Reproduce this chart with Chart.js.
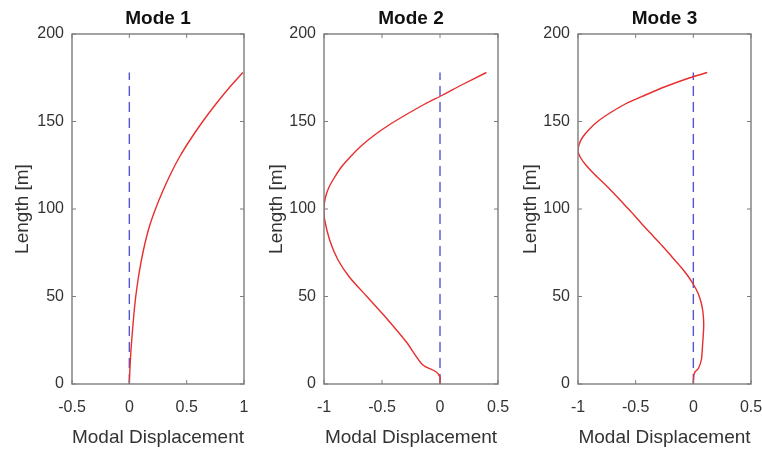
<!DOCTYPE html>
<html>
<head>
<meta charset="utf-8">
<script src="https://cdn.jsdelivr.net/npm/chart.js@4.4.0/dist/chart.umd.min.js"></script>
<style>
  html, body { margin: 0; padding: 0; background: #fff; }
  #wrap { position: relative; width: 762px; height: 451px; }
  #wrap canvas { position: absolute; left: 0; top: 0; }
</style>
</head>
<body>
<div id="wrap">
  <canvas id="modeOne" width="762" height="451"></canvas>
  <canvas id="modeTwo" width="762" height="451"></canvas>
  <canvas id="modeThree" width="762" height="451"></canvas>
</div>
<script>
// mode shapes: length along riser [m] vs modal displacement
const mode1Len  = [0, 10, 20, 30, 40, 50, 60, 70, 80, 90, 100, 110, 120, 130, 140, 150, 160, 170, 178];
const mode1Disp = [0, 0.006, 0.015, 0.027, 0.04, 0.056, 0.077, 0.103, 0.135, 0.175, 0.228, 0.29, 0.36, 0.44, 0.535, 0.64, 0.755, 0.88, 0.99];

const mode2Len  = [0, 4, 7, 11, 24, 39, 50, 61, 71, 82, 94, 100, 106, 112, 118, 124, 130, 136, 142, 148, 154, 160, 165, 171, 178];
const mode2Disp = [0, 0, -0.035, -0.15, -0.29, -0.48, -0.63, -0.78, -0.88, -0.95, -0.995, -1.0, -0.99, -0.96, -0.91, -0.85, -0.77, -0.68, -0.57, -0.44, -0.29, -0.13, 0.02, 0.19, 0.4];

const mode3Len  = [0, 5, 7, 9, 14, 22, 33, 40, 46, 52, 57, 62, 67, 73, 79, 85, 91, 97, 103, 109, 115, 120, 125, 129, 133, 137, 141, 145, 150, 155, 160, 165, 170, 175, 178];
const mode3Disp = [0, 0.005, 0.015, 0.045, 0.07, 0.08, 0.09, 0.085, 0.07, 0.04, 0, -0.05, -0.11, -0.19, -0.27, -0.355, -0.44, -0.52, -0.605, -0.69, -0.78, -0.86, -0.93, -0.975, -1.0, -0.99, -0.96, -0.91, -0.83, -0.72, -0.59, -0.42, -0.24, -0.03, 0.12];

// undeformed position (dashed)
const restLen  = [0, 178];
const restDisp = [0, 0];

const yTicks = [0, 50, 100, 150, 200];

const fontFam = "'Liberation Sans', Arial, Helvetica, sans-serif";

// matlab style box with inward ticks
const boxTicks = {
    id: 'boxTicks',
    afterDraw(chart) {
        const {ctx, chartArea: a} = chart;
        const x = chart.scales.x, y = chart.scales.y;
        ctx.save();
        ctx.strokeStyle = '#7d7d7d';
        ctx.lineWidth = 1.4;
        ctx.strokeRect(a.left, a.top, a.right - a.left, a.bottom - a.top);
        ctx.lineWidth = 1;
        ctx.beginPath();
        x.ticks.forEach(t => {
            const px = x.getPixelForValue(t.value);
            ctx.moveTo(px, a.bottom); ctx.lineTo(px, a.bottom - 4);
            ctx.moveTo(px, a.top); ctx.lineTo(px, a.top + 4);
        });
        y.ticks.forEach(t => {
            const py = y.getPixelForValue(t.value);
            ctx.moveTo(a.left, py); ctx.lineTo(a.left + 4, py);
            ctx.moveTo(a.right, py); ctx.lineTo(a.right - 4, py);
        });
        ctx.stroke();
        ctx.restore();
    }
};

function toPoints(len, disp) {
    return len.map((l, i) => ({x: disp[i], y: l}));
}

function modeChart(id, title, len, disp, xMin, xMax, padLeft, yWidth, padRight) {
    return new Chart(document.getElementById(id).getContext('2d'), {
        type: 'scatter',
        data: {
            datasets: [{
                data: toPoints(len, disp),
                showLine: true,
                borderColor: 'rgb(232, 45, 45)',
                borderWidth: 1.4,
                pointRadius: 0,
                tension: 0.25
            }, {
                data: toPoints(restLen, restDisp),
                showLine: true,
                borderColor: 'rgb(85, 85, 205)',
                borderWidth: 1.4,
                borderDash: [10, 6],
                pointRadius: 0
            }]
        },
        options: {
            responsive: false,
            animation: false,
            layout: { padding: { left: padLeft, right: padRight, top: 0, bottom: 0 } },
            plugins: {
                legend: { display: false },
                tooltip: { enabled: false }
            },
            scales: {
                xTop: {
                    axis: 'x',
                    type: 'linear',
                    position: 'top',
                    min: xMin, max: xMax,
                    grid: { display: false, drawTicks: false },
                    border: { display: false },
                    ticks: { display: false },
                    title: {
                        display: true,
                        text: title,
                        color: '#111',
                        font: { family: fontFam, size: 19, weight: 'bold' },
                        padding: { top: 7, bottom: 5 }
                    },
                    afterFit: s => { s.height = 34; s.paddingLeft = 0; s.paddingRight = 0; }
                },
                x: {
                    type: 'linear',
                    position: 'bottom',
                    min: xMin, max: xMax,
                    grid: { display: false, drawTicks: false },
                    border: { display: false },
                    ticks: {
                        stepSize: 0.5,
                        padding: 14,
                        maxRotation: 0,
                        autoSkip: false,
                        color: '#333',
                        font: { family: fontFam, size: 16 },
                        callback: v => String(v)
                    },
                    title: {
                        display: true,
                        text: 'Modal Displacement',
                        color: '#333',
                        font: { family: fontFam, size: 19 },
                        padding: { top: 0, bottom: 2 }
                    },
                    afterFit: s => { s.height = 67; s.paddingLeft = 0; s.paddingRight = 0; }
                },
                y: {
                    type: 'linear',
                    min: yTicks[0], max: yTicks[yTicks.length - 1],
                    grid: { display: false, drawTicks: false },
                    border: { display: false },
                    afterBuildTicks: s => { s.ticks = yTicks.map(v => ({value: v})); },
                    ticks: {
                        padding: 8,
                        color: '#333',
                        font: { family: fontFam, size: 16 }
                    },
                    title: {
                        display: true,
                        text: 'Length [m]',
                        color: '#333',
                        font: { family: fontFam, size: 19 },
                        padding: { top: 11, bottom: 0 }
                    },
                    afterFit: s => { s.width = yWidth; s.paddingTop = 0; s.paddingBottom = 0; }
                }
            }
        },
        plugins: [boxTicks]
    });
}

modeChart('modeOne', 'Mode 1', mode1Len, mode1Disp, -0.5, 1, 0, 72, 518);
modeChart('modeTwo', 'Mode 2', mode2Len, mode2Disp, -1, 0.5, 254, 70, 264);
modeChart('modeThree', 'Mode 3', mode3Len, mode3Disp, -1, 0.5, 508, 70, 11);
</script>
</body>
</html>
